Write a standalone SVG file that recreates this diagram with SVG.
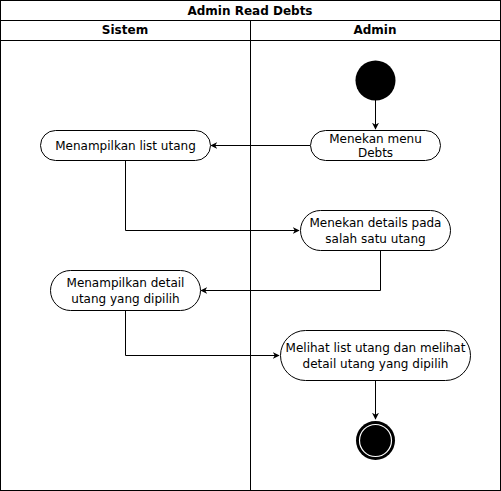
<svg xmlns="http://www.w3.org/2000/svg" width="501" height="491" viewBox="0 0 501 491">
<style>
.frame{fill:none;stroke:#000;stroke-width:1}
.node{fill:#fff;stroke:#000;stroke-width:1}
.t{font-family:"DejaVu Sans",Verdana,sans-serif;font-size:12px;fill:#000;text-anchor:middle}
.b{font-weight:bold}
.edge{fill:none;stroke:#000;stroke-width:1}
</style>
<defs>
<marker id="arr" viewBox="0 0 10 10" refX="9" refY="5" markerWidth="7" markerHeight="7" markerUnits="userSpaceOnUse" orient="auto">
<path d="M0,0 L10,5 L0,10 L3,5 Z" fill="#000"/>
</marker>
</defs>
<rect width="501" height="491" fill="#fff"/>
<g id="pool">
<rect class="frame" x="0.5" y="0.5" width="500" height="490"/>
<line class="frame" x1="0.5" y1="20.5" x2="500.5" y2="20.5"/>
<line class="frame" x1="0.5" y1="40.5" x2="500.5" y2="40.5"/>
<line class="frame" x1="250.5" y1="20.5" x2="250.5" y2="490.5"/>
<text class="t b" x="250" y="15">Admin Read Debts</text>
<text class="t b" x="125" y="34">Sistem</text>
<text class="t b" x="375" y="34">Admin</text>
</g>
<g id="connectors">
<path class="edge" d="M375.5,100 V129" marker-end="url(#arr)"/>
<path class="edge" d="M310,145.5 H211" marker-end="url(#arr)"/>
<path class="edge" d="M125.5,160 V230.5 H299" marker-end="url(#arr)"/>
<path class="edge" d="M380.5,250 V290.5 H201" marker-end="url(#arr)"/>
<path class="edge" d="M125.5,310 V355.5 H279" marker-end="url(#arr)"/>
<path class="edge" d="M375.5,380 V419" marker-end="url(#arr)"/>
</g>
<g id="start">
<circle cx="375.5" cy="80.5" r="20" fill="#000"/>
</g>
<g id="menekan-menu">
<rect class="node" x="310.5" y="130.5" width="130" height="30" rx="15"/>
<text class="t" x="375.5" y="143">Menekan menu</text>
<text class="t" x="375.5" y="157">Debts</text>
</g>
<g id="menampilkan-list">
<rect class="node" x="40.5" y="130.5" width="170" height="30" rx="15"/>
<text class="t" x="125.5" y="150">Menampilkan list utang</text>
</g>
<g id="menekan-details">
<rect class="node" x="300.5" y="210.5" width="150" height="40" rx="20"/>
<text class="t" x="375.5" y="227">Menekan details pada</text>
<text class="t" x="375.5" y="243">salah satu utang</text>
</g>
<g id="menampilkan-detail">
<rect class="node" x="50.5" y="270.5" width="150" height="40" rx="20"/>
<text class="t" x="125.5" y="287">Menampilkan detail</text>
<text class="t" x="125.5" y="303">utang yang dipilih</text>
</g>
<g id="melihat">
<rect class="node" x="280.5" y="330.5" width="190" height="50" rx="25"/>
<text class="t" x="375.5" y="352">Melihat list utang dan melihat</text>
<text class="t" x="375.5" y="368">detail utang yang dipilih</text>
</g>
<g id="end">
<circle cx="375.5" cy="440.5" r="19.5" fill="#000"/>
<circle cx="375.5" cy="440.5" r="16" fill="#000" stroke="#fff" stroke-width="1.2"/>
</g>
</svg>
